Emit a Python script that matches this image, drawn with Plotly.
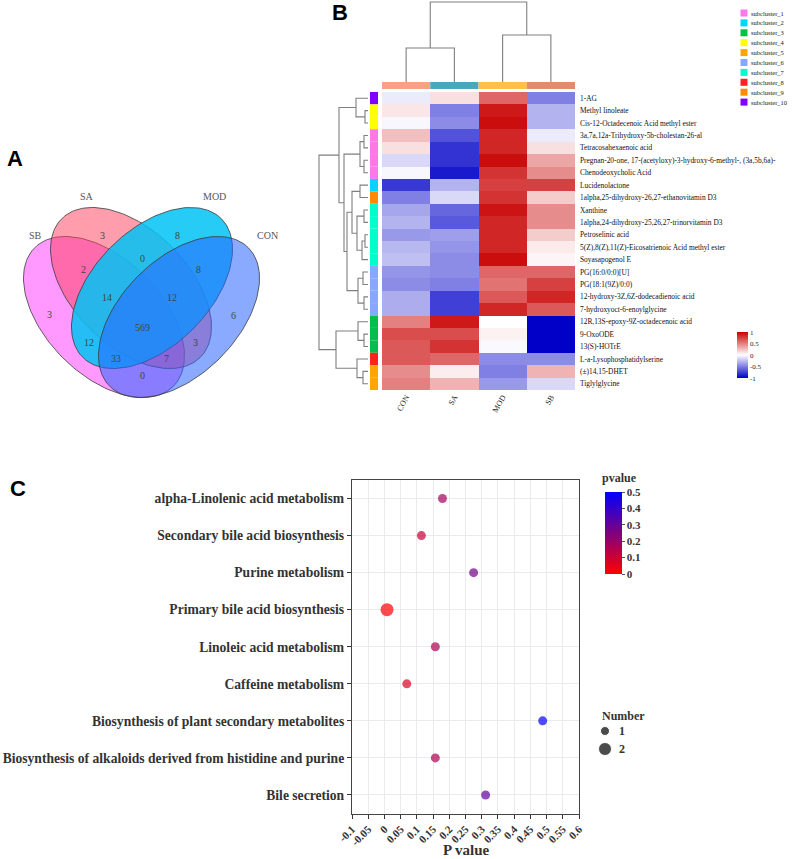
import numpy as np
import plotly.graph_objects as go

W, H = 796, 859
SERIF = "Liberation Serif"
SANS = "Liberation Sans"

# ---------------- data ----------------
venn_sets = ["SB", "SA", "MOD", "CON"]
venn_regions = ["SB", "SA", "MOD", "CON", "SA&MOD", "SB&SA", "MOD&CON",
                "SB&SA&MOD", "SA&MOD&CON", "SB&SA&MOD&CON", "SB&MOD",
                "SB&MOD&CON", "SB&SA&CON", "SA&CON", "SB&CON"]
venn_counts = [3, 3, 8, 6, 0, 2, 8, 14, 12, 569, 12, 33, 7, 3, 0]

hm_columns = ["CON", "SA", "MOD", "SB"]
hm_rows = [
    "1-AG", "Methyl linoleate", "Cis-12-Octadecenoic Acid methyl ester",
    "3a,7a,12a-Trihydroxy-5b-cholestan-26-al", "Tetracosahexaenoic acid",
    "Pregnan-20-one, 17-(acetyloxy)-3-hydroxy-6-methyl-, (3a,5b,6a)-",
    "Chenodeoxycholic Acid", "Lucidenolactone",
    "1alpha,25-dihydroxy-26,27-ethanovitamin D3", "Xanthine",
    "1alpha,24-dihydroxy-25,26,27-trinorvitamin D3", "Petroselinic acid",
    "5(Z),8(Z),11(Z)-Eicosatrienoic Acid methyl ester", "Soyasapogenol E",
    "PG(16:0/0:0)[U]", "PG(18:1(9Z)/0:0)", "12-hydroxy-3Z,6Z-dodecadienoic acid",
    "7-hydroxyoct-6-enoylglycine", "12R,13S-epoxy-9Z-octadecenoic acid",
    "9-OxoODE", "13(S)-HOTrE", "L-a-Lysophosphatidylserine", "(±)14,15-DHET",
    "Tiglylglycine"]
hm_con = [-0.08, 0.10, -0.03, 0.25, 0.12, -0.15, -0.03, -0.78, -0.50, -0.35, -0.30, -0.40,
          -0.28, -0.25, -0.42, -0.45, -0.32, -0.32, 0.50, 0.70, 0.65, 0.65, 0.45, 0.50]
hm_sa = [0.12, -0.50, -0.45, -0.68, -0.80, -0.80, -0.90, -0.30, -0.15, -0.60, -0.65, -0.38,
         -0.42, -0.45, -0.45, -0.50, -0.75, -0.75, 0.90, 0.70, 0.80, 0.60, 0.07, 0.30]
hm_mod = [0.60, 0.90, 0.95, 0.85, 0.85, 0.95, 0.80, 0.75, 0.80, 0.92, 0.85, 0.85,
          0.85, 0.95, 0.60, 0.55, 0.65, 0.85, 0.00, 0.05, -0.02, -0.45, -0.50, -0.40]
hm_sb = [-0.50, -0.30, -0.30, -0.08, 0.12, 0.35, 0.45, 0.75, 0.20, 0.45, 0.45, 0.20,
         0.08, 0.04, 0.60, 0.75, 0.85, 0.65, -1.00, -1.00, -1.00, -0.45, 0.30, -0.15]
row_subcluster = [10, 4, 4, 1, 1, 1, 1, 2, 9, 7, 7, 7, 7, 7, 6, 6, 6, 6, 3, 3, 3, 8, 5, 5]
subcluster_names = ["subcluster_%d" % i for i in range(1, 11)]

# scipy-style linkage: (left, right, height); ids >= n are earlier merges
row_linkage = [(1, 2, 3), (0, 24, 12), (3, 4, 4), (5, 6, 4), (26, 27, 8), (7, 8, 8),
               (9, 10, 4), (11, 12, 3), (31, 13, 6), (30, 32, 11), (29, 33, 16),
               (14, 15, 5), (16, 17, 4), (35, 36, 10), (34, 37, 21), (28, 38, 24),
               (25, 39, 29), (19, 20, 4), (18, 41, 10), (22, 23, 5), (21, 43, 11),
               (42, 44, 32), (40, 45, 49)]
col_linkage = [(0, 1, 34), (2, 3, 47), (4, 5, 80)]

pathways = ["alpha-Linolenic acid metabolism", "Secondary bile acid biosynthesis",
            "Purine metabolism", "Primary bile acid biosynthesis",
            "Linoleic acid metabolism", "Caffeine metabolism",
            "Biosynthesis of plant secondary metabolites",
            "Biosynthesis of alkaloids derived from histidine and purine",
            "Bile secretion"]
pvals = [0.179, 0.114, 0.275, 0.008, 0.157, 0.069, 0.488, 0.157, 0.312]
numbers = [1, 1, 1, 2, 1, 1, 1, 1, 1]
x_tick_vals = [-0.1, -0.05, 0, 0.05, 0.1, 0.15, 0.2, 0.25, 0.3, 0.35, 0.4, 0.45, 0.5, 0.55, 0.6]
x_tick_text = ["-0.1", "-0.05", "0", "0.05", "0.1", "0.15", "0.2", "0.25", "0.3", "0.35",
               "0.4", "0.45", "0.5", "0.55", "0.6"]
number_levels = [1, 2]
hm_cbar_ticks = [-1, -0.5, 0, 0.5, 1]
hm_cbar_text = ["-1", "-0.5", "0", "0.5", "1"]
p_cbar_ticks = [0, 0.1, 0.2, 0.3, 0.4, 0.5]

# ---------------- styles / layout geometry (page pixels) ----------------
venn_fill = ["rgba(255,51,255,0.5)", "rgba(255,60,90,0.5)",
             "rgba(0,195,245,0.85)", "rgba(40,100,255,0.55)"]
venn_ellipses = [(104, 317, 98, 58, 45), (131, 288, 98, 58, 45),
                 (152, 288, 98, 58, -45), (179, 317, 98, 58, -45)]
venn_set_label_pos = [(35, 235), (87, 196), (214, 196), (267, 235)]
venn_label_pos = {"SB": (49, 314), "SA": (102, 235), "MOD": (177, 235), "CON": (233, 315),
                  "SA&MOD": (142, 258), "SB&SA": (83, 269), "MOD&CON": (198, 269),
                  "SB&SA&MOD": (107, 297), "SA&MOD&CON": (172, 297),
                  "SB&SA&MOD&CON": (142, 327), "SB&MOD": (89, 342),
                  "SB&MOD&CON": (116, 358), "SB&SA&CON": (166, 358),
                  "SA&CON": (195, 342), "SB&CON": (142, 375)}
subcluster_colors = ["#FA78EA", "#00D4FF", "#00C04A", "#FFFF00", "#FFA500",
                     "#86A8FF", "#00FFCC", "#FF2222", "#FF8C00", "#8000FF"]
col_group_colors = ["#F9A283", "#4AA7C2", "#FDC148", "#E08E6A"]
hm_colorscale = [[0, "#0000C8"], [0.5, "#FFFFFF"], [1, "#C80000"]]
p_colorscale = [[0, "#FF0000"], [1, "#0000FF"]]
dend_color = "#7F7F7F"


def ellipse(cx, cy, a, b, ang_deg, n=160):
    t = np.linspace(0, 2 * np.pi, n)
    g = np.deg2rad(ang_deg)
    x = cx + a * np.cos(t) * np.cos(g) - b * np.sin(t) * np.sin(g)
    y = cy + a * np.cos(t) * np.sin(g) + b * np.sin(t) * np.cos(g)
    return x, y


def dendro_lines(linkage, n):
    pos = {i: float(i) for i in range(n)}
    hgt = {i: 0.0 for i in range(n)}
    p, h = [], []
    for k, (a, b, ht) in enumerate(linkage):
        p += [pos[a], pos[a], pos[b], pos[b], None]
        h += [hgt[a], ht, ht, hgt[b], None]
        pos[n + k] = (pos[a] + pos[b]) / 2
        hgt[n + k] = ht
    return p, h


fig = go.Figure()

# ---- C: dot plot ----
fig.add_trace(go.Scatter(
    x=pvals, y=pathways, mode="markers", xaxis="x", yaxis="y",
    marker=dict(size=[5 + 4 * n for n in numbers], color=pvals, cmin=0, cmax=0.5,
                colorscale=p_colorscale, line=dict(width=0),
                colorbar=dict(x=605 / W, xanchor="left", xpad=0, y=1 - 533 / H, yanchor="middle",
                              ypad=0, len=82, lenmode="pixels", thickness=17, outlinewidth=0,
                              tickvals=p_cbar_ticks, ticks="outside", ticklen=3, tickcolor="#555",
                              tickfont=dict(family=SERIF, size=11, color="#333", weight="bold"))),
    showlegend=False))

# ---- B: heatmap ----
z = [[hm_con[i], hm_sa[i], hm_mod[i], hm_sb[i]] for i in range(len(hm_rows))]
fig.add_trace(go.Heatmap(
    z=z, x=list(range(len(hm_columns))), y=list(range(len(hm_rows))),
    xaxis="x2", yaxis="y2", zmin=-1, zmax=1, colorscale=hm_colorscale,
    colorbar=dict(x=737 / W, xanchor="left", xpad=0, y=1 - 355.5 / H, yanchor="middle", ypad=0,
                  len=46, lenmode="pixels", thickness=11, outlinewidth=0,
                  tickvals=hm_cbar_ticks, ticktext=hm_cbar_text, ticks="",
                  tickfont=dict(family=SERIF, size=7, color="#222"))))

cp, ch = dendro_lines(col_linkage, len(hm_columns))
fig.add_trace(go.Scatter(x=cp, y=ch, xaxis="x2", yaxis="y3", mode="lines",
                         line=dict(color=dend_color, width=1.1), showlegend=False, hoverinfo="skip"))
rp, rh = dendro_lines(row_linkage, len(hm_rows))
fig.add_trace(go.Scatter(x=rh, y=rp, xaxis="x3", yaxis="y2", mode="lines",
                         line=dict(color=dend_color, width=1.1), showlegend=False, hoverinfo="skip"))

# ---- A: Venn ----
for (cx, cy, a, b, g), col in zip(venn_ellipses, venn_fill):
    ex, ey = ellipse(cx, cy, a, b, g)
    fig.add_trace(go.Scatter(x=ex, y=ey, xaxis="x9", yaxis="y9", mode="lines", fill="toself",
                             fillcolor=col, line=dict(color="#3A3A3A", width=0.8),
                             showlegend=False, hoverinfo="skip"))

# ---- subcluster legend ----
sub_y = [13 + 9.9 * i for i in range(len(subcluster_names))]
fig.add_trace(go.Scatter(x=[744] * len(sub_y), y=sub_y, xaxis="x9", yaxis="y9", mode="markers",
                         marker=dict(symbol="square", size=7, color=subcluster_colors),
                         showlegend=False, hoverinfo="skip"))
# ---- Number legend ----
num_y = [731 + 18 * i for i in range(len(number_levels))]
fig.add_trace(go.Scatter(x=[605] * len(num_y), y=num_y, xaxis="x9", yaxis="y9", mode="markers",
                         marker=dict(size=[5 + 4 * n for n in number_levels], color="black"),
                         showlegend=False, hoverinfo="skip"))

ann = []
for name, cnt in zip(venn_regions, venn_counts):
    x, y = venn_label_pos[name]
    ann.append(dict(x=x, y=y, xref="x9", yref="y9", text=str(cnt), showarrow=False,
                    font=dict(family=SERIF, size=10, color="#444")))
for name, (x, y) in zip(venn_sets, venn_set_label_pos):
    ann.append(dict(x=x, y=y, xref="x9", yref="y9", text=name, showarrow=False,
                    font=dict(family=SERIF, size=10, color="#555")))
for t, (x, y) in zip(["A", "B", "C"], [(15, 158), (340, 12), (18, 488)]):
    ann.append(dict(x=x, y=y, xref="x9", yref="y9", text="<b>%s</b>" % t, showarrow=False,
                    font=dict(family=SANS, size=22, color="black")))
for name, y in zip(subcluster_names, sub_y):
    ann.append(dict(x=749, y=y, xref="x9", yref="y9", text=name, showarrow=False, xanchor="left",
                    font=dict(family=SERIF, size=6.5, color="#222")))
ann.append(dict(x=600, y=478, xref="x9", yref="y9", text="<b>pvalue</b>", showarrow=False,
                xanchor="left", font=dict(family=SERIF, size=12, color="#333")))
ann.append(dict(x=600, y=716, xref="x9", yref="y9", text="<b>Number</b>", showarrow=False,
                xanchor="left", font=dict(family=SERIF, size=12, color="#333")))
for lv, y in zip(number_levels, num_y):
    ann.append(dict(x=617, y=y, xref="x9", yref="y9", text="<b>%d</b>" % lv, showarrow=False,
                    xanchor="left", font=dict(family=SERIF, size=12, color="#333")))
ann.append(dict(x=466, y=850, xref="x9", yref="y9", text="<b>P value</b>", showarrow=False,
                font=dict(family=SERIF, size=15, color="#333")))

shapes = []
for i, sc in enumerate(row_subcluster):
    shapes.append(dict(type="rect", xref="paper", yref="y2", x0=370 / W, x1=378 / W,
                       y0=i - 0.5, y1=i + 0.5, fillcolor=subcluster_colors[sc - 1], line=dict(width=0)))
for j, c in enumerate(col_group_colors):
    shapes.append(dict(type="rect", xref="x2", yref="paper", x0=j - 0.5, x1=j + 0.5,
                       y0=1 - 89 / H, y1=1 - 82 / H, fillcolor=c, line=dict(width=0)))

hidden = dict(visible=False, showgrid=False, zeroline=False, automargin=False, fixedrange=True)

fig.update_layout(
    template="none", width=W, height=H, margin=dict(l=0, r=0, t=0, b=0),
    paper_bgcolor="white", plot_bgcolor="rgba(0,0,0,0)",
    font=dict(family=SERIF, color="#222"), showlegend=False,
    xaxis=dict(domain=[352 / W, 579 / W], range=[-0.1, 0.6], anchor="y",
               tickvals=x_tick_vals, ticktext=x_tick_text, tickangle=-45,
               ticks="outside", ticklen=4, tickcolor="#333", showline=True, mirror=True,
               linecolor="#444", linewidth=1.2, showgrid=True, gridcolor="#EBEBEB",
               zeroline=False, automargin=False,
               tickfont=dict(family=SERIF, size=11, color="#333", weight="bold")),
    yaxis=dict(domain=[1 - 813.5 / H, 1 - 480 / H], anchor="x", type="category",
               categoryorder="array", categoryarray=pathways, range=[8.5, -0.5],
               ticks="outside", ticklen=4, tickcolor="#333", showline=True, mirror=True,
               linecolor="#444", linewidth=1.2, showgrid=True, gridcolor="#EBEBEB",
               zeroline=False, automargin=False,
               tickfont=dict(family=SERIF, size=13.6, color="#333", weight="bold")),
    xaxis2=dict(domain=[382 / W, 575 / W], range=[-0.5, 3.5], anchor="y2",
                tickvals=list(range(len(hm_columns))), ticktext=hm_columns, tickangle=-60,
                ticks="", showline=False, showgrid=False, zeroline=False, automargin=False,
                tickfont=dict(family=SERIF, size=8, color="#222")),
    yaxis2=dict(domain=[1 - 390 / H, 1 - 92 / H], range=[23.5, -0.5], anchor="x2", side="right",
                tickvals=list(range(len(hm_rows))), ticktext=hm_rows, ticks="",
                ticklabelstandoff=4, showline=False, showgrid=False, zeroline=False,
                automargin=False, tickfont=dict(family=SERIF, size=7.4, color="#111")),
    xaxis3=dict(domain=[318 / W, 369 / W], range=[50, -1], anchor="y2", **hidden),
    yaxis3=dict(domain=[1 - 83 / H, 1 - 1 / H], range=[-1, 81], anchor="x2", **hidden),
    xaxis9=dict(domain=[0, 1], range=[0, W], anchor="y9", **hidden),
    yaxis9=dict(domain=[0, 1], range=[H, 0], anchor="x9", **hidden),
    annotations=ann, shapes=shapes,
)

fig.write_html("out.html", config={"displayModeBar": False},
               post_script="document.body.style.margin='0px';document.body.style.overflow='hidden';")
